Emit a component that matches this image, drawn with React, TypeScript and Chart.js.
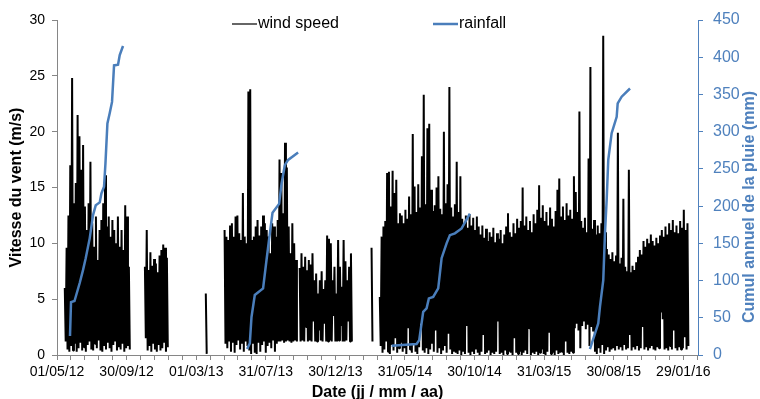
import React, { useEffect, useRef } from 'react';
import { Chart, registerables } from 'chart.js';

Chart.register(...registerables);

// ---- X axis (days since 01/05/12) ----
const xTickDays = [0, 152, 304, 456, 608, 760, 912, 1064, 1216, 1368];
const xTickLabels = ['01/05/12', '30/09/12', '01/03/13', '31/07/13', '30/12/13', '31/05/14', '30/10/14', '31/03/15', '30/08/15', '29/01/16'];
const xMinorStep = 30.4;
const xMaxDay = 1400;

// ---- Wind speed (m/s): per segment, start day + sampled highs / lows (step 4 days) ----
const WIND_STEP = 4;
const windAStart = 17;
const windAHigh = [6.0, 9.6, 12.5, 17.0, 24.8, 13.6, 15.4, 21.5, 19.6, 16.6, 18.8, 13.3, 11.2, 13.6, 17.3, 11.8, 9.7, 12.4, 8.5, 11.2, 12.1, 13.6, 16.1, 11.5, 12.4, 10.6, 12.1, 11.2, 10.0, 12.4, 9.7, 11.2, 9.4, 13.4, 12.4, 7.9];
const windALow = [1.2, 0.5, 0.3, 0.8, 0.4, 1.0, 0.3, 0.6, 1.1, 0.4, 0.7, 0.3, 0.9, 1.2, 0.5, 0.4, 1.0, 0.6, 1.3, 0.4, 0.3, 0.8, 0.5, 1.1, 0.6, 0.3, 0.9, 1.2, 0.4, 0.7, 0.5, 1.0, 0.3, 0.6, 0.8, 0.5];

const windBStart = 192;
const windBHigh = [7.9, 11.2, 7.6, 9.2, 8.0, 8.6, 8.2, 7.4, 8.9, 9.4, 9.9, 9.6, 8.7];
const windBLow = [1.5, 0.4, 0.8, 0.3, 1.0, 0.5, 0.3, 0.9, 0.4, 0.6, 1.1, 0.3, 0.7];

const windCStart = 325;
const windCHigh = [5.5];
const windCLow = [0.1];

const windDStart = 366;
const windDHigh = [11.2, 10.6, 10.3, 11.6, 11.8, 10.6, 12.4, 12.5, 10.9, 10.3, 14.5, 10.6, 10.0, 23.6, 23.8, 10.3, 10.6, 11.5, 12.1, 10.7, 11.5, 12.5, 11.8, 11.2, 10.6, 9.1, 11.8, 11.5, 10.6, 12.1, 17.5, 16.3, 12.7, 19.0, 16.8, 11.5, 9.1, 11.8, 10.0, 8.5];
const windDLow = [1.0, 0.6, 1.2, 0.3, 1.1, 0.2, 0.9, 1.3, 0.5, 1.0, 0.3, 1.2, 0.8, 0.4, 0.1, 1.0, 0.2, 0.1, 1.1, 0.3, 0.9, 1.2, 0.2, 0.8, 1.1, 0.6, 1.3, 0.3, 1.0, 1.2, 1.2, 1.3, 1.1, 1.2, 1.3, 1.2, 1.1, 1.2, 1.3, 1.2];

const windEStart = 530;
const windEHigh = [7.8, 9.1, 7.9, 8.8, 7.6, 8.5, 8.1, 9.1, 6.7, 7.3, 5.5, 6.7, 7.5, 5.9, 6.7, 10.7, 10.4, 10.0, 6.7, 7.9, 5.5, 10.3, 7.9, 6.1, 10.3, 8.4, 6.7, 7.9, 9.1];
const windELow = [1.2, 1.3, 1.2, 2.5, 1.2, 1.3, 1.2, 3.0, 1.2, 1.2, 2.2, 1.3, 1.2, 2.8, 1.2, 1.2, 1.3, 1.2, 3.5, 1.2, 1.2, 1.3, 2.6, 1.2, 1.2, 1.3, 3.0, 1.2, 1.2];

const windS1Start = 687;
const windS1High = [9.6];
const windS1Low = [1.2];

const windFStart = 705;
const windFHigh = [
  5.2, 10.6, 11.5, 12.0, 16.3, 16.4, 13.3, 16.5, 14.5, 15.7,
  11.8, 12.7, 12.5, 11.8, 13.0, 12.2, 14.2, 12.6, 19.8, 15.1,
  12.8, 15.3, 13.2, 17.8, 23.3, 13.5, 20.3, 20.7, 14.8, 12.9,
  13.4, 15.0, 16.0, 13.1, 12.6, 20.0, 13.6, 15.3, 24.0, 13.2,
  12.4, 13.5, 17.3, 12.8, 16.0, 12.2, 11.8, 12.5, 11.4, 12.6,
  11.6, 12.3, 11.2, 12.4, 11.5, 10.8, 11.6, 10.5, 11.3, 10.2,
  11.0, 10.6, 11.4, 10.1, 10.9, 10.4, 11.2, 10.0, 10.8, 11.5,
  12.7, 11.0, 10.6, 11.8, 10.9, 12.2, 11.4, 12.0, 15.0, 11.6,
  12.4, 11.2, 12.0, 11.0, 12.6, 11.8, 13.0, 15.2, 12.3, 13.4,
  12.0, 12.8, 11.6, 13.2, 12.2, 11.5, 12.9, 14.8, 15.8, 12.4,
  13.3, 12.1, 13.6, 12.5, 13.0, 12.2, 16.0, 14.6, 12.8, 21.8,
  12.0, 11.4, 12.3, 11.0, 17.6, 25.8, 11.3, 12.1, 10.8, 11.6,
  10.9, 11.8, 28.6, 11.0, 9.5, 9.0, 8.6, 9.2, 8.4, 8.9,
  19.9, 8.2, 8.7, 14.0, 7.9, 7.5, 16.6, 7.4, 8.0, 7.6,
  8.3, 8.8, 9.4, 9.0, 10.2, 9.7, 10.4, 10.0, 10.8, 10.2,
  9.8, 10.5, 10.0, 10.7, 11.2, 10.6, 11.5, 10.8, 11.8, 11.2,
  12.1, 11.0, 11.6, 10.9, 12.0, 11.4, 13.0, 11.2, 11.8,
];
const windFLow = [
  0.8, 0.2, 0.5, 1.2, 0.3, 0.1, 0.9, 0.4, 1.5, 0.2, 0.6, 1.1,
  0.3, 0.6, 0.1, 2.4, 0.5, 0.2, 0.9, 0.3, 0.1, 0.7, 2.8, 0.4, 0.2, 0.6, 0.1, 0.5, 1.0, 0.3, 2.2, 0.2, 0.6, 0.1, 0.4, 0.8, 0.2, 1.9, 0.5, 0.1, 0.3,
  0.2, 0.1, 0.4, 0.0, 0.3, 0.1, 2.6, 0.2, 0.0, 0.3, 0.1, 0.5, 0.2, 0.0, 0.3, 1.8, 0.1, 0.2, 0.4, 0.0, 0.2, 0.1, 0.3, 3.0, 0.1, 0.2, 0.0, 0.4, 0.1, 0.3, 0.2, 0.0, 1.5, 0.2, 0.1, 0.3, 0.0, 0.2, 0.4, 0.1, 2.4, 0.0, 0.2, 0.1, 0.3, 0.0, 0.2, 0.5, 0.1, 0.0, 0.3, 2.0, 0.1, 0.2, 0.0, 0.4, 0.1, 0.2, 0.3, 0.0, 1.2, 0.2, 0.1, 0.3, 0.2,
  2.4, 2.8, 2.2, 0.6, 2.6, 3.0, 2.3, 2.7, 0.8, 2.5, 2.1,
  0.3, 0.1, 0.6, 0.2, 0.9, 0.1, 0.4, 0.7, 0.3, 0.5,
  0.6, 0.4, 0.8, 0.5, 0.7, 0.4, 0.9, 0.5, 0.6, 1.8, 0.4, 0.7, 0.5, 0.8, 0.4, 0.6, 2.5, 0.5, 0.7, 0.4, 0.6, 0.8, 0.5, 0.4, 0.7, 0.6, 3.8, 3.2, 0.5, 0.6, 0.4, 0.8, 0.5, 2.2, 0.6, 0.4, 0.7, 0.5, 0.6, 1.6, 0.5, 0.8,
];

// ---- Rainfall, annual cumulative (mm) ----
const rain2012Days = [28.4, 30.6, 38.2, 49.6, 56.8, 62.7, 71.5, 78.7, 84.6, 93.3, 97.0, 102.7, 105.8, 110.1, 115.2, 120.2, 124.6, 133.3, 137.0, 144.2];
const rain2012Mm = [25.5, 71, 72.5, 96.7, 114, 130, 157, 188, 201, 205, 217, 226, 257, 311, 325, 340, 389, 390, 403, 415];
const rain2013Days = [415.2, 421.1, 424.8, 432.0, 450.1, 457.6, 464.8, 470.7, 485.1, 490.4, 497.6, 504.8, 526.6];
const rain2013Mm = [8, 15.7, 51, 80.6, 89.5, 127.6, 163, 191, 203, 230, 255, 262, 272];
const rain2014Days = [730.7, 785.4, 791.1, 799.8, 807.2, 812.2, 821.6, 832.6, 840, 850.9, 858.1, 869.1, 883.7, 901.8];
const rain2014Mm = [12.5, 14.8, 20, 58, 62.6, 76, 78, 89.5, 130, 150, 161, 163.4, 170, 190];
const rain2015Days = [1164, 1182.2, 1185.9, 1193.1, 1196.8, 1200.5, 1204, 1211.4, 1222.4, 1224.6, 1233.3, 1251.5];
const rain2015Mm = [8, 42.5, 65, 100.7, 163, 208, 262, 298, 320, 338, 347, 358];

const BLUE = '#4A7EBB';
const BLUE_AXIS = '#4F81BD';
const GREY = '#868686';
const FONT = '"Liberation Sans", Arial, sans-serif';

type Pt = { x: number; y: number | null };

function buildWind(): Pt[] {
  const segs: [number, number[], number[]][] = [
    [windAStart, windAHigh, windALow],
    [windBStart, windBHigh, windBLow],
    [windCStart, windCHigh, windCLow],
    [windDStart, windDHigh, windDLow],
    [windEStart, windEHigh, windELow],
    [windS1Start, windS1High, windS1Low],
    [windFStart, windFHigh, windFLow],
  ];
  const pts: Pt[] = [];
  segs.forEach(([s, hi, lo], k) => {
    if (k > 0) pts.push({ x: s - 1, y: null });
    hi.forEach((h, i) => {
      pts.push({ x: s + i * WIND_STEP, y: h });
      pts.push({ x: s + i * WIND_STEP + WIND_STEP / 2, y: lo[i] });
    });
  });
  return pts;
}

function buildRain(): Pt[] {
  const years: [number[], number[]][] = [
    [rain2012Days, rain2012Mm],
    [rain2013Days, rain2013Mm],
    [rain2014Days, rain2014Mm],
    [rain2015Days, rain2015Mm],
  ];
  const pts: Pt[] = [];
  years.forEach(([d, m], k) => {
    if (k > 0) pts.push({ x: d[0] - 1, y: null });
    d.forEach((x, i) => pts.push({ x, y: m[i] }));
  });
  return pts;
}

const decorPlugin = {
  id: 'decor',
  afterDraw(chart: any) {
    const ctx = chart.ctx;
    ctx.save();
    // legend
    ctx.lineCap = 'butt';
    ctx.strokeStyle = '#333';
    ctx.lineWidth = 1.5;
    ctx.beginPath();
    ctx.moveTo(232, 24);
    ctx.lineTo(257, 24);
    ctx.stroke();
    ctx.strokeStyle = BLUE;
    ctx.lineWidth = 2.5;
    ctx.beginPath();
    ctx.moveTo(433, 24);
    ctx.lineTo(458, 24);
    ctx.stroke();
    ctx.fillStyle = '#000';
    ctx.font = `16px ${FONT}`;
    ctx.textBaseline = 'middle';
    ctx.textAlign = 'left';
    ctx.fillText('wind speed', 258, 24);
    ctx.fillText('rainfall', 459, 24);
    // right axis title
    ctx.translate(749.5, 207);
    ctx.rotate(-Math.PI / 2);
    ctx.fillStyle = BLUE_AXIS;
    ctx.font = `bold 16px ${FONT}`;
    ctx.textAlign = 'center';
    ctx.textBaseline = 'middle';
    ctx.fillText('Cumul annuel de la pluie (mm)', 0, 0);
    ctx.restore();
  },
};

export default function App() {
  const ref = useRef<HTMLCanvasElement | null>(null);

  useEffect(() => {
    document.body.style.margin = '0';
    if (!ref.current) return;
    const chart = new Chart(ref.current, {
      type: 'line',
      data: {
        datasets: [
          {
            label: 'rainfall',
            data: buildRain() as any,
            borderColor: BLUE,
            borderWidth: 2.5,
            pointRadius: 0,
            tension: 0,
            yAxisID: 'y1',
            spanGaps: false,
          },
          {
            label: 'wind speed',
            data: buildWind() as any,
            borderColor: '#000',
            borderWidth: 2,
            borderJoinStyle: 'bevel',
            pointRadius: 0,
            tension: 0,
            yAxisID: 'y',
            spanGaps: false,
          },
        ],
      },
      options: {
        responsive: false,
        animation: false,
        devicePixelRatio: 1,
        layout: { padding: { top: 20, left: 0, right: 0, bottom: 0 } },
        plugins: { legend: { display: false }, tooltip: { enabled: false } },
        scales: {
          x: {
            type: 'linear',
            min: 0,
            max: xMaxDay,
            afterBuildTicks: (scale: any) => {
              const t: any[] = [];
              for (let k = 0; k * xMinorStep <= xMaxDay; k++) t.push({ value: k * xMinorStep });
              scale.ticks = t;
            },
            afterFit: (scale: any) => {
              scale.height = 44;
            },
            ticks: {
              autoSkip: false,
              maxRotation: 0,
              minRotation: 0,
              padding: 4,
              color: '#000',
              font: { family: FONT, size: 14 },
              callback: (v: any) => {
                const i = xTickDays.findIndex((d) => Math.abs(d - Number(v)) < 0.5);
                return i >= 0 ? xTickLabels[i] : '';
              },
            },
            grid: { drawOnChartArea: false, drawTicks: true, tickLength: 5, color: GREY },
            border: { display: true, color: GREY, width: 1 },
            title: {
              display: true,
              text: 'Date (jj / mm / aa)',
              color: '#000',
              font: { family: FONT, size: 16, weight: 'bold', lineHeight: 0.75 },
              padding: { top: 0, bottom: 0 },
            },
          },
          y: {
            type: 'linear',
            position: 'left',
            min: 0,
            max: 30,
            afterFit: (scale: any) => {
              scale.width = 57;
            },
            ticks: { stepSize: 5, padding: 7, color: '#000', font: { family: FONT, size: 14 } },
            grid: { drawOnChartArea: false, drawTicks: true, tickLength: 5, color: GREY },
            border: { display: true, color: GREY, width: 1 },
            title: {
              display: true,
              text: 'Vitesse du vent (m/s)',
              color: '#000',
              font: { family: FONT, size: 16, weight: 'bold' },
              padding: { top: 6.5, bottom: 0 },
            },
          },
          y1: {
            type: 'linear',
            position: 'right',
            min: 0,
            max: 450,
            afterFit: (scale: any) => {
              scale.width = 62;
            },
            ticks: { stepSize: 50, padding: 10, color: BLUE_AXIS, font: { family: FONT, size: 16 } },
            grid: { drawOnChartArea: false, drawTicks: true, tickLength: 5, color: BLUE_AXIS },
            border: { display: true, color: BLUE_AXIS, width: 1 },
          },
        },
      } as any,
      plugins: [decorPlugin],
    });
    return () => chart.destroy();
  }, []);

  return (
    <div style={{ width: 760, height: 399, background: '#fff' }}>
      <canvas ref={ref} width={760} height={399} style={{ display: 'block', width: 760, height: 399 }} />
    </div>
  );
}
